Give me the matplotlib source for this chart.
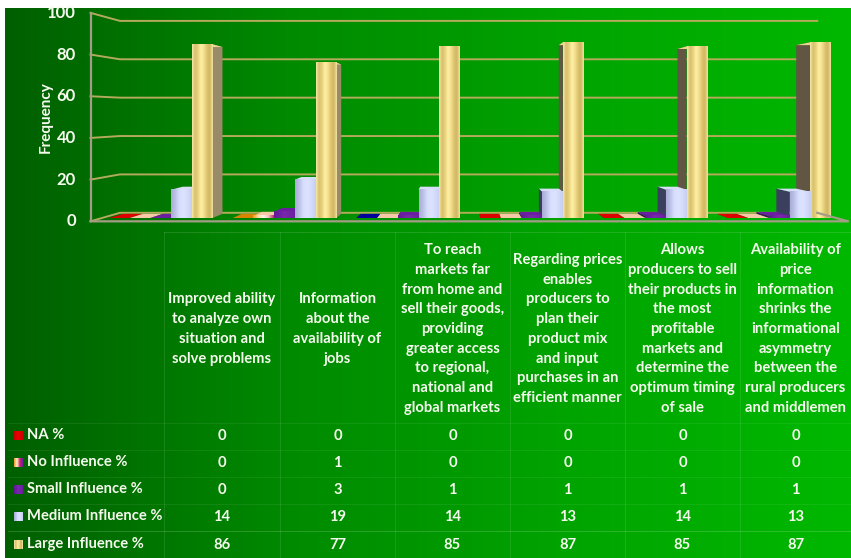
#!/usr/bin/env python3
"""Influence of information access: 3-D style clustered columns with a data table below."""
import numpy as np
import matplotlib
matplotlib.use("Agg")
import matplotlib.pyplot as plt
from matplotlib.colors import LinearSegmentedColormap
from matplotlib.patches import Polygon

CATEGORIES = [
    "Improved ability\nto analyze own\nsituation and\nsolve problems",
    "Information\nabout the\navailability of\njobs",
    "To reach\nmarkets far\nfrom home and\nsell their goods,\nproviding\ngreater access\nto regional,\nnational and\nglobal markets",
    "Regarding prices\nenables\nproducers to\nplan their\nproduct mix\nand input\npurchases in an\nefficient manner",
    "Allows\nproducers to sell\ntheir products in\nthe most\nprofitable\nmarkets and\ndetermine the\noptimum timing\nof sale",
    "Availability of\nprice\ninformation\nshrinks the\ninformational\nasymmetry\nbetween the\nrural producers\nand middlemen",
]
SERIES = ["NA %", "No Influence %", "Small Influence %", "Medium Influence %", "Large Influence %"]
NA = [0, 0, 0, 0, 0, 0]
NO_INFLUENCE = [0, 1, 0, 0, 0, 0]
SMALL = [0, 3, 1, 1, 1, 1]
MEDIUM = [14, 19, 14, 13, 14, 13]
LARGE = [86, 77, 85, 87, 85, 87]
YTICKS = [0, 20, 40, 60, 80, 100]

W, H = 851, 558
TEXT = "#f6faee"
FONT = "Lato"

# perspective: vanishing point (data units) and depths of walls / bars
VX, VY = 2.42, 51.5
D_FRONT, D_BACK = -0.032, 0.05
D_BAR0, D_BAR1 = 0.0, 0.04
WALL_L, WALL_R = -0.476, 5.46

def proj(x, v, d):
    return x + (VX - x) * d, v + (VY - v) * d

def cm(*cols):
    return LinearSegmentedColormap.from_list("c", list(cols))

GOLD = cm("#f3e7a6", "#d9c06c", "#e8d27f", "#fff0a4", "#f5e08f", "#dcc472", "#d2b762", "#efe2a0")
LAV = cm("#a9add6", "#bcc2e8", "#d6defd", "#dce3ff", "#d4dbf9", "#c6cdf0")
PURP = cm("#5f1a96", "#7a28ae", "#6a1fa0")
RED = cm("#c80000", "#ee0000", "#c80000")
STRIPE = cm("#e8a030", "#ffd9a0", "#fff4e8", "#f0c0c0", "#d0206a")
ORANGE = cm("#b86a00", "#e89000", "#c87800")
NAVY = cm("#00007a", "#0000a8", "#00007a")

# per-series face gradient, side colours (left/right of the vanishing point) and top colour
STYLES = [
    (RED, "#8a0000", "#8a0000", "#dd0000"),
    (STRIPE, "#a03060", "#a03060", "#f6c8a8"),
    (PURP, "#3c1060", "#3c1060", "#6a1fa0"),
    (LAV, "#3a3f5e", "#8a8db0", "#d8def8"),
    (GOLD, "#615543", "#998a68", "#e8d88c"),
]

fig = plt.figure(figsize=(W / 100, H / 100), dpi=100, facecolor="white")

# page layer in pixel units: background and table
bg = fig.add_axes([0, 0, 1, 1])
bg.axis("off")
ramp = np.linspace(0, 1, 256)[None, :]
bg.imshow(ramp, extent=[5, W, H, 8], aspect="auto", zorder=0,
          cmap=cm("#005f00", "#008a00", "#00a400", "#00b800"))

# table rules
COL_X = [164, 280, 395, 510, 625, 740, W]
ROW_Y = [423, 450, 477, 504, 531, H]
bg.plot([COL_X[0], W], [232, 232], color=(1, 1, 1, 0.12), lw=0.8, zorder=1)
for x in COL_X[:-1]:
    bg.plot([x, x], [232, H], color=(1, 1, 1, 0.1), lw=0.8, zorder=1)
for y in ROW_Y[:-2]:
    bg.plot([8, W], [y, y], color=(1, 1, 1, 0.07), lw=0.8, zorder=1)
bg.plot([8, W], [ROW_Y[-2], ROW_Y[-2]], color=(1, 1, 1, 0.16), lw=0.8, zorder=1)

for i, label in enumerate(CATEGORIES):
    bg.text((COL_X[i] + COL_X[i + 1]) / 2, 329, label, ha="center", va="center", color=TEXT,
            fontsize=10.6, family=FONT, weight="bold", linespacing=1.52, zorder=3)

# chart layer: one data unit on x is a category, y is the frequency scale
ax = fig.add_axes([99 / W, 1 - 218 / H, (841 - 99) / W, (218 - 16) / H])
ax.axis("off")

GRID = "#b3aa5c"
GRAY = "#a39d85"
for t in YTICKS:
    x0, y0 = proj(WALL_L, t, D_FRONT)
    x1, y1 = proj(WALL_L, t, D_BACK)
    x2, y2 = proj(WALL_R, t, D_BACK)
    ax.plot([x0, x1, x2], [y0, y1, y2], color=GRID, lw=1.4, clip_on=False, zorder=1,
            solid_joinstyle="miter")
    ax.text(x0 - 0.118, y0, str(t), ha="right", va="center", color=TEXT, fontsize=12,
            family=FONT, weight="bold", zorder=6)

x0, y0 = proj(WALL_L, 0, D_FRONT)
x3, y3 = proj(WALL_L, 100, D_FRONT)
ax.plot([x3, x0], [y3, y0], color=GRAY, lw=1.6, clip_on=False, zorder=5)
x1, y1 = proj(WALL_R, 0, D_FRONT)
x2, y2 = proj(WALL_R, 0, D_BACK)
ax.plot([x2, x1, x0], [y2, y1, y0], color=GRAY, lw=1.6, clip_on=False, zorder=5)
ax.text(x0 - 0.36, 50, "Frequency", rotation=90, ha="center", va="center", color=TEXT,
        fontsize=11, family=FONT, weight="bold", zorder=6)

# columns are drawn far from the vanishing point first so nearer faces overlap correctly
BAR_W = 20.7 / 123.67
values = [NA, NO_INFLUENCE, SMALL, MEDIUM, LARGE]
bars = []
for s, vals in enumerate(values):
    for c, v in enumerate(vals):
        left = c + (s - 2.5) * BAR_W
        bars.append((abs(left + BAR_W / 2 - VX), s, c, left, v))
bars.sort(key=lambda b: -b[0])

for order, (_, s, c, left, v) in enumerate(bars):
    right = left + BAR_W
    z = 2 + order * 0.01
    grad, side_l, side_r, top = STYLES[s]
    if s == 0 and c == 1:
        grad, top = ORANGE, "#d88400"
    if s == 0 and c == 2:
        grad, top = NAVY, "#00009a"
    # the visible side face
    edge = right if right < VX else left
    col = side_r if right < VX else side_l
    pts = [proj(edge, 0, D_BAR0), proj(edge, v, D_BAR0), proj(edge, v, D_BAR1), proj(edge, 0, D_BAR1)]
    ax.add_patch(Polygon(pts, closed=True, fc=col, ec="none", zorder=z, clip_on=False))
    # top face, which is all that shows for a zero column
    pts = [proj(left, v, D_BAR0), proj(right, v, D_BAR0), proj(right, v, D_BAR1), proj(left, v, D_BAR1)]
    ax.add_patch(Polygon(pts, closed=True, fc=top, ec="none", zorder=z, clip_on=False))
    if v > 0:
        ax.imshow(np.linspace(0, 1, 64)[None, :], extent=[left, right, 0, v], aspect="auto",
                  cmap=grad, zorder=z + 0.001, clip_on=False)

ax.set_xlim(-0.5, 5.5)
ax.set_ylim(0, 100)

# table rows with legend keys
ROW_TEXT = [436, 463, 490, 517, 545]
KEYS = [RED, STRIPE, PURP, LAV, GOLD]
for r, name in enumerate(SERIES):
    y = ROW_TEXT[r]
    key = cm("#e8a030", "#fff0d0", "#d0206a", "#6a1fa0") if r == 1 else KEYS[r]
    bg.imshow(np.linspace(0, 1, 16)[None, :], extent=[14, 23, y + 4.5, y - 4.5], aspect="auto",
              cmap=key, zorder=2)
    bg.text(27, y - 1, name, ha="left", va="center", color=TEXT, fontsize=10.6,
            family=FONT, weight="bold", zorder=3)
    for i, v in enumerate(values[r]):
        bg.text((COL_X[i] + COL_X[i + 1]) / 2, y, str(v), ha="center", va="center", color=TEXT,
                fontsize=10.6, family=FONT, weight="bold", zorder=3)
bg.set_xlim(0, W)
bg.set_ylim(H, 0)

fig.savefig("out.png", dpi=100)
